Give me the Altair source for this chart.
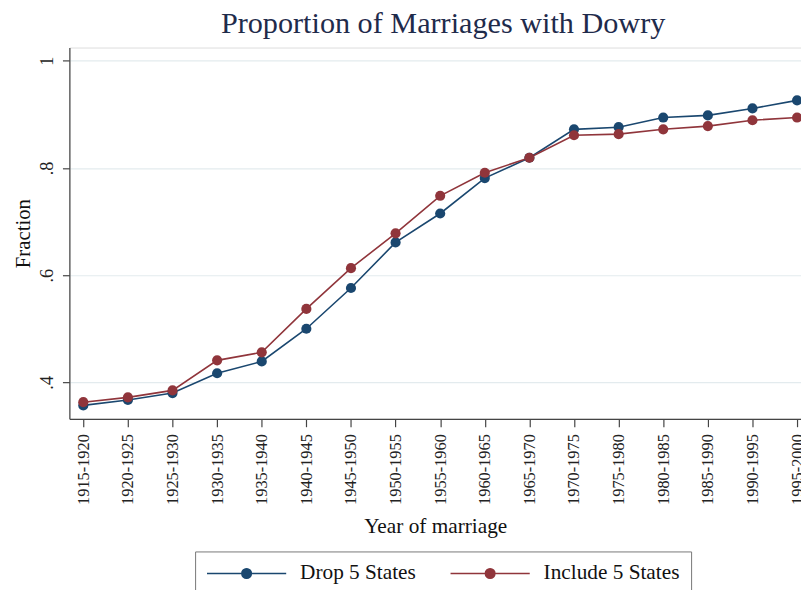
import altair as alt
import pandas as pd

periods = ["1915-1920", "1920-1925", "1925-1930", "1930-1935", "1935-1940",
           "1940-1945", "1945-1950", "1950-1955", "1955-1960", "1960-1965",
           "1965-1970", "1970-1975", "1975-1980", "1980-1985", "1985-1990",
           "1990-1995", "1995-2000"]
drop_5 = [0.357, 0.367, 0.380, 0.417, 0.439, 0.500, 0.576, 0.661, 0.715,
          0.781, 0.819, 0.872, 0.876, 0.894, 0.898, 0.911, 0.926]
include_5 = [0.363, 0.372, 0.385, 0.441, 0.456, 0.537, 0.613, 0.678, 0.748,
             0.791, 0.819, 0.861, 0.863, 0.872, 0.878, 0.889, 0.894]
series_names = ["Drop 5 States", "Include 5 States"]
series_colors = ["#1a476f", "#90353b"]
y_ticks = [0.4, 0.6, 0.8, 1.0]

rows = []
for name, vals in zip(series_names, [drop_5, include_5]):
    for p, v in zip(periods, vals):
        rows.append({"period": p, "fraction": v, "series": name})
df = pd.DataFrame(rows)

FONT = "Liberation Serif"

# legend key: a line with a solid dot drawn as concentric rings (units of 10px)
parts = ["M-1,0L7,0"]
for r in [0.1, 0.23, 0.36, 0.48]:
    parts.append(f"M{3 + r},0A{r},{r},0,1,1,{3 - r},0A{r},{r},0,1,1,{3 + r},0")
legend_path = "".join(parts)

x_enc = alt.X(
    "period:N", sort=periods,
    scale=alt.Scale(type="point", padding=0.2, align=0.78),
    axis=alt.Axis(title="Year of marriage", labelAngle=-90, labelAlign="right",
                  labelBaseline="middle", labelFont=FONT, labelFontSize=16.5,
                  labelColor="#222222", labelPadding=7, tickSize=8,
                  titleFont=FONT, titleFontSize=21.5, titleFontWeight="normal",
                  titleColor="#111111", titlePadding=11, grid=False,
                  domainColor="#444444", tickColor="#444444",
                  domainWidth=1.2, tickWidth=1.2, labelOverlap=False),
)
y_enc = alt.Y(
    "fraction:Q",
    scale=alt.Scale(domain=[0.332, 1.0246], nice=False, zero=False),
    axis=alt.Axis(values=y_ticks, title="Fraction",
                  labelExpr="datum.value >= 1 ? '1' : replace(format(datum.value, '.1f'), '0.', '.')",
                  labelAngle=-90, labelAlign="center", labelBaseline="bottom",
                  labelFont=FONT, labelFontSize=18.5, labelColor="#222222",
                  labelPadding=6, tickSize=7,
                  titleFont=FONT, titleFontSize=21, titleFontWeight="normal",
                  titleColor="#111111", titlePadding=4,
                  grid=True, gridColor="#e3ebee", gridWidth=1.2,
                  domainColor="#444444", tickColor="#444444",
                  domainWidth=1.2, tickWidth=1.2),
)

lines = alt.Chart(df).mark_line(strokeWidth=1.6).encode(
    x=x_enc, y=y_enc,
    color=alt.Color("series:N",
                    scale=alt.Scale(domain=series_names, range=series_colors),
                    legend=alt.Legend(
                        title=None, orient="none", legendX=127, legendY=509,
                        direction="horizontal", columns=2,
                        symbolType=legend_path, symbolSize=400,
                        symbolStrokeWidth=1.6, labelOffset=73,
                        columnPadding=30, padding=11,
                        strokeColor="#777777", fillColor="white",
                        labelFont=FONT, labelFontSize=21.5, labelColor="#111111",
                    )),
)
points = alt.Chart(df).mark_point(filled=True, size=105, opacity=1, strokeWidth=0).encode(
    x=x_enc, y=y_enc,
    fill=alt.Fill("series:N",
                  scale=alt.Scale(domain=series_names, range=series_colors),
                  legend=None),
)

chart = alt.layer(lines, points).properties(
    width=739, height=375,
    padding={"left": 62, "top": 37, "right": 0, "bottom": 170},
    autosize=alt.AutoSizeParams(type="none"),
    title=alt.TitleParams("Proportion of Marriages with Dowry", font=FONT,
                          fontSize=30.5, fontWeight="normal", color="#1f2b4b",
                          anchor="middle", frame="group", baseline="alphabetic",
                          offset=11, dx=8, dy=27),
).configure_view(stroke=None).configure(background="white")

chart.save("out.html", embed_options={"renderer": "svg", "actions": False})
